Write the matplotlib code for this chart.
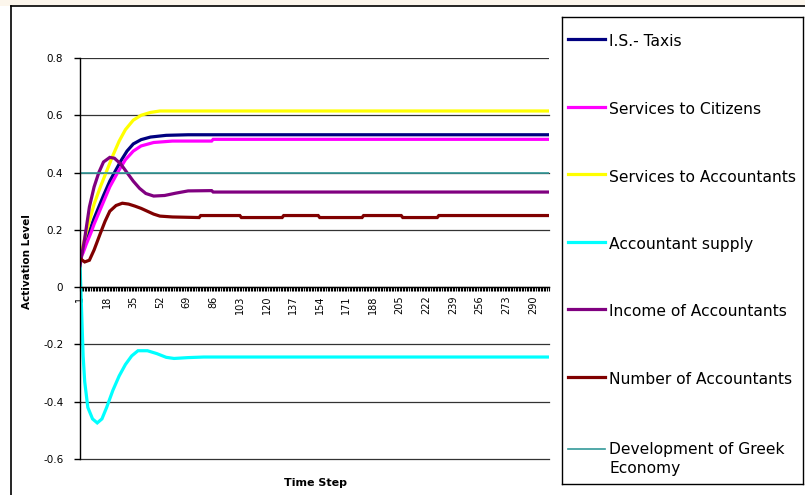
import matplotlib
matplotlib.use("Agg")
import matplotlib.pyplot as plt
from matplotlib.lines import Line2D
from matplotlib.patches import Rectangle
from matplotlib.ticker import FixedLocator, MultipleLocator, FuncFormatter

plt.rcParams['font.family'] = ['DejaVu Sans']

# simulation output, sampled at the time steps where the curves change shape
taxis_t = [1, 3, 5, 8, 10, 13, 16, 20, 23, 27, 31, 35, 40, 46, 56, 70, 300]
taxis_v = [0.10, 0.13, 0.16, 0.21, 0.24, 0.28, 0.32, 0.37, 0.40, 0.44, 0.475,
           0.50, 0.515, 0.524, 0.530, 0.532, 0.532]

citizens_t = [1, 3, 5, 8, 10, 15, 20, 25, 30, 35, 40, 48, 60, 85, 86, 300]
citizens_v = [0.10, 0.12, 0.15, 0.19, 0.22, 0.285, 0.35, 0.40, 0.445, 0.475,
              0.493, 0.505, 0.51, 0.51, 0.516, 0.516]

accountants_t = [1, 4, 7, 10, 14, 18, 22, 26, 30, 35, 40, 46, 52, 300]
accountants_v = [0.10, 0.17, 0.23, 0.29, 0.35, 0.405, 0.46, 0.51, 0.55, 0.583,
                 0.60, 0.61, 0.615, 0.615]

supply_t = [1, 2, 3, 4, 6, 9, 12, 15, 18, 22, 26, 30, 34, 38, 44, 50, 56, 61,
            70, 80, 300]
supply_v = [0.08, -0.08, -0.24, -0.33, -0.42, -0.46, -0.474, -0.46, -0.42,
            -0.36, -0.31, -0.27, -0.24, -0.222, -0.222, -0.232, -0.245, -0.249,
            -0.246, -0.244, -0.244]

income_t = [1, 4, 7, 10, 13, 16, 20, 23, 27, 31, 35, 39, 43, 48, 55, 62, 70,
            85, 86, 300]
income_v = [0.075, 0.17, 0.28, 0.35, 0.40, 0.437, 0.453, 0.45, 0.43, 0.40, 0.37,
            0.345, 0.327, 0.318, 0.32, 0.328, 0.336, 0.337, 0.332, 0.332]

number_t = [1, 4, 7, 10, 14, 17, 20, 24, 28, 32, 36, 40, 44, 48, 52, 60, 77,
            78, 103, 104, 130, 131, 153, 154, 181, 182, 206, 207, 229, 230, 300]
number_v = [0.10, 0.088, 0.094, 0.13, 0.188, 0.23, 0.265, 0.285, 0.293, 0.29,
            0.283, 0.275, 0.265, 0.255, 0.248, 0.245, 0.243, 0.25, 0.25, 0.243,
            0.243, 0.25, 0.25, 0.243, 0.243, 0.25, 0.25, 0.243, 0.243, 0.25, 0.25]

economy_t = [1, 300]
economy_v = [0.4, 0.4]

series = [
    ("I.S.- Taxis", taxis_t, taxis_v, '#000080', 2.3),
    ("Services to Citizens", citizens_t, citizens_v, '#FF00FF', 2.3),
    ("Services to Accountants", accountants_t, accountants_v, '#FFFF00', 2.3),
    ("Accountant supply", supply_t, supply_v, '#00FFFF', 2.3),
    ("Income of Accountants", income_t, income_v, '#800080', 2.3),
    ("Number of Accountants", number_t, number_v, '#800000', 2.3),
    ("Development of Greek\nEconomy", economy_t, economy_v, '#339999', 1.2),
]

W, H = 805, 495
fig = plt.figure(figsize=(W / 100, H / 100), dpi=100)

# outer chart border
fig.add_artist(Rectangle((0, 1 - 6 / H), 1, 6 / H, transform=fig.transFigure,
                         color='#fcf6ec', lw=0))
fig.add_artist(Line2D([11 / W, 11 / W], [0, 1 - 6 / H], color='black', lw=1.2))
fig.add_artist(Line2D([11 / W, 1], [1 - 6 / H, 1 - 6 / H], color='black', lw=1.2))

ax = fig.add_axes([80 / W, (H - 459) / H, 468.5 / W, 401 / H])
lines = []
for name, t, v, c, lw in series:
    ln, = ax.plot(t, v, color=c, lw=lw, solid_joinstyle='miter')
    lines.append(ln)

ax.set_xlim(1, 300)
ax.set_ylim(-0.6, 0.8)
ax.spines['top'].set_visible(False)
ax.spines['right'].set_visible(False)
ax.spines['bottom'].set_position(('data', 0))
ax.spines['bottom'].set_linewidth(1.0)
ax.spines['left'].set_linewidth(1.0)

ax.set_yticks([-0.6, -0.4, -0.2, 0, 0.2, 0.4, 0.6, 0.8])
ax.yaxis.set_major_formatter(FuncFormatter(lambda y, p: '0' if abs(y) < 1e-9 else f'{y:.1f}'))
ax.tick_params(axis='y', direction='out', length=4, width=1, pad=8, labelsize=7.5)
ax.yaxis.grid(True, color='#333333', lw=0.9)
ax.set_axisbelow(True)
# keep the bottom gridline at full weight on the axes edge
for gl in ax.get_ygridlines()[:-1]:
    gl.set_clip_on(False)

ax.xaxis.set_major_locator(FixedLocator(list(range(1, 301, 17))))
ax.xaxis.set_minor_locator(MultipleLocator(1))
ax.xaxis.set_major_formatter(FuncFormatter(lambda x, p: f'{int(round(x))}'))
ax.tick_params(axis='x', which='both', direction='out', length=3, width=0.8,
               labelsize=7, labelrotation=90, pad=3)

fig.text(27 / W, 1 - 262 / H, 'Activation Level', rotation=90, fontsize=7.5,
         fontweight='bold', ha='center', va='center')
fig.text(315 / W, 1 - 483 / H, 'Time Step', fontsize=8, fontweight='bold',
         ha='center', va='center')

# legend panel
lax = fig.add_axes([562 / W, (H - 484) / H, 241 / W, 467 / H])
lax.set_xlim(562, 803)
lax.set_ylim(484, 17)
lax.set_xticks([])
lax.set_yticks([])
for s in lax.spines.values():
    s.set_linewidth(1.0)
rows = [39, 106.7, 174, 242, 309, 376.7, 449]
for ln, (name, *_), y in zip(lines, series, rows):
    lax.plot([568, 605], [y, y], color=ln.get_color(), lw=ln.get_linewidth())
    if '\n' in name:
        lax.text(609, y - 7, name, fontsize=11.2, va='top', ha='left', linespacing=1.3)
    else:
        lax.text(609, y + 3, name, fontsize=11.2, va='center', ha='left')

fig.savefig('out.png', dpi=100)
